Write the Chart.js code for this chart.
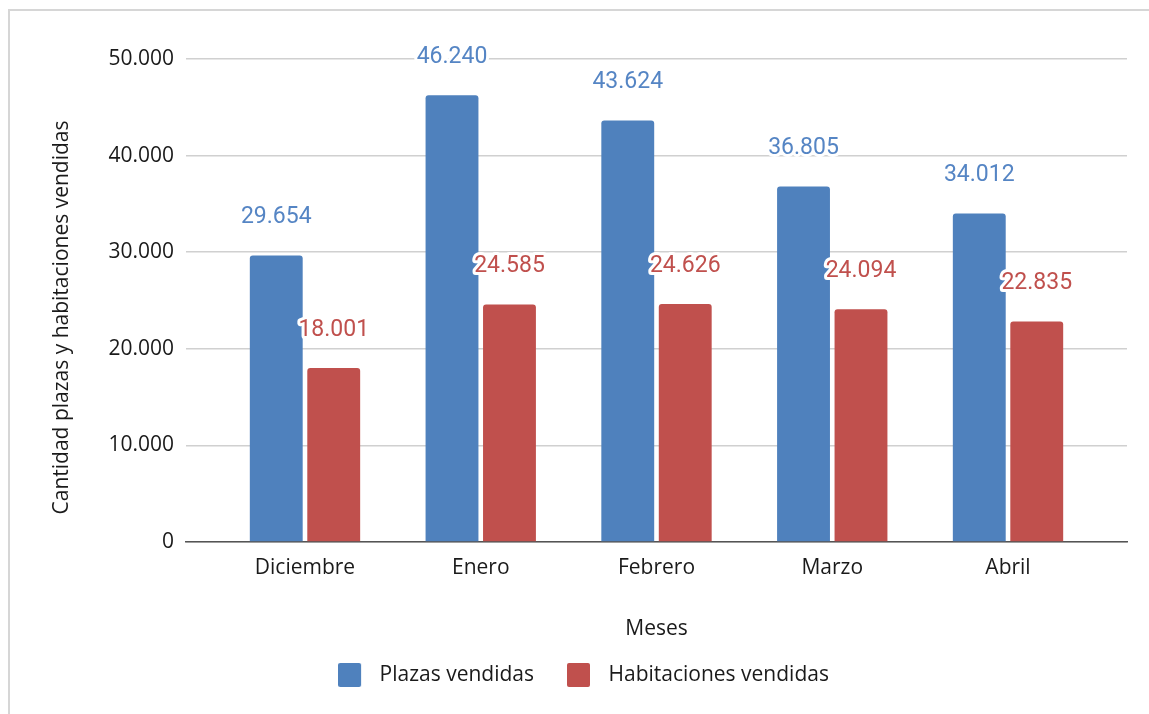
<!DOCTYPE html>
<html>
<head>
<meta charset="utf-8">
<script src="https://cdn.jsdelivr.net/npm/chart.js@4.4.1/dist/chart.umd.min.js"></script>
<style>
  html, body { margin: 0; padding: 0; background: #ffffff; overflow: hidden; }
  #frame { position: absolute; left: 8px; top: 9px; width: 1200px; height: 800px;
           border-left: 2px solid #d6d6d6; border-top: 2px solid #d6d6d6; }
  #wrap { position: absolute; left: 0; top: 0; width: 1149px; height: 714px; }
</style>
</head>
<body>
<div id="frame"></div>
<div id="wrap"><canvas id="c" width="1149" height="714"></canvas></div>
<script>
const categories = ['Diciembre', 'Enero', 'Febrero', 'Marzo', 'Abril'];
const plazasVendidas = [29654, 46240, 43624, 36805, 34012];
const habitacionesVendidas = [18001, 24585, 24626, 24094, 22835];
const seriesNames = ['Plazas vendidas', 'Habitaciones vendidas'];
const yTickValues = [0, 10000, 20000, 30000, 40000, 50000];
const xAxisTitle = 'Meses';
const yAxisTitle = 'Cantidad plazas y habitaciones vendidas';

const BLUE = '#4f81bd';
const RED = '#c0504d';
const AXIS_FONT = "'Open Sans', 'Noto Sans', sans-serif";
const TEXT = '#1a1a1a';

function fmt(v) {
  return String(Math.round(v)).replace(/\B(?=(\d{3})+(?!\d))/g, '.');
}

function makeSwatch(color) {
  const c = document.createElement('canvas');
  c.width = 31; c.height = 24;
  const g = c.getContext('2d');
  g.fillStyle = color;
  g.beginPath();
  if (g.roundRect) g.roundRect(0, 0, 23, 24, 2); else g.rect(0, 0, 23, 24);
  g.fill();
  return c;
}

const valueLabels = {
  id: 'valueLabels',
  afterDatasetsDraw(chart) {
    const ctx = chart.ctx;
    ctx.save();
    ctx.font = "23px Roboto, 'Noto Sans', sans-serif";
    ctx.textAlign = 'center';
    ctx.textBaseline = 'middle';
    ctx.lineJoin = 'round';
    chart.data.datasets.forEach((ds, di) => {
      const meta = chart.getDatasetMeta(di);
      meta.data.forEach((el, i) => {
        const t = fmt(ds.data[i]);
        const y = el.y - 38;
        ctx.strokeStyle = '#ffffff';
        ctx.lineWidth = 6;
        ctx.strokeText(t, el.x, y);
        ctx.fillStyle = ds.labelColor;
        ctx.fillText(t, el.x, y);
      });
    });
    ctx.restore();
  }
};

const yTitle = {
  id: 'yTitle',
  afterDraw(chart) {
    const ctx = chart.ctx;
    const a = chart.chartArea;
    ctx.save();
    ctx.translate(62, (a.top + a.bottom) / 2 + 17);
    ctx.rotate(-Math.PI / 2);
    ctx.font = "21px " + AXIS_FONT;
    ctx.fillStyle = TEXT;
    ctx.textAlign = 'center';
    ctx.textBaseline = 'middle';
    ctx.fillText(yAxisTitle, 0, 0);
    ctx.restore();
  }
};

new Chart(document.getElementById('c'), {
  type: 'bar',
  data: {
    labels: categories,
    datasets: [
      { label: seriesNames[0], data: plazasVendidas, backgroundColor: BLUE, labelColor: '#5585c4',
        borderRadius: { topLeft: 3, topRight: 3 }, borderSkipped: 'start',
        categoryPercentage: 0.654, barPercentage: 0.92 },
      { label: seriesNames[1], data: habitacionesVendidas, backgroundColor: RED, labelColor: '#c0504d',
        borderRadius: { topLeft: 3, topRight: 3 }, borderSkipped: 'start',
        categoryPercentage: 0.654, barPercentage: 0.92 }
    ]
  },
  options: {
    responsive: false,
    animation: false,
    devicePixelRatio: 1,
    layout: { padding: { left: 40, right: 22, top: 59, bottom: 18.5 } },
    plugins: {
      tooltip: { enabled: false },
      legend: {
        position: 'bottom',
        labels: {
          usePointStyle: true,
          pointStyleWidth: 31,
          padding: 33,
          color: TEXT,
          font: { family: AXIS_FONT, size: 21 },
          generateLabels(chart) {
            const items = Chart.defaults.plugins.legend.labels.generateLabels(chart);
            items.forEach((it, i) => { it.pointStyle = makeSwatch(chart.data.datasets[i].backgroundColor); });
            return items;
          }
        }
      }
    },
    scales: {
      x: {
        offset: true,
        afterBuildTicks(s) { s._startValue = -0.677; s._valueRange = 5.354; },
        afterFit(s) { s.height = 89.5; },
        grid: { display: false, drawTicks: false },
        border: { display: true, color: '#555555', width: 1.5 },
        ticks: { color: TEXT, padding: 13, font: { family: AXIS_FONT, size: 21 } },
        title: { display: true, text: xAxisTitle, color: TEXT,
                 padding: { top: 0, bottom: -10.5 }, font: { family: AXIS_FONT, size: 21 } }
      },
      y: {
        min: 0, max: 50000,
        afterFit(s) { s.width = 146; },
        afterBuildTicks(s) { s.ticks = yTickValues.map(v => ({ value: v })); },
        grid: { color: '#d0d0d0', lineWidth: 1.5, drawTicks: false },
        border: { display: false },
        ticks: { color: TEXT, padding: 12, font: { family: AXIS_FONT, size: 21 },
                 callback: (v) => fmt(v) }
      }
    }
  },
  plugins: [valueLabels, yTitle]
});
</script>
</body>
</html>
